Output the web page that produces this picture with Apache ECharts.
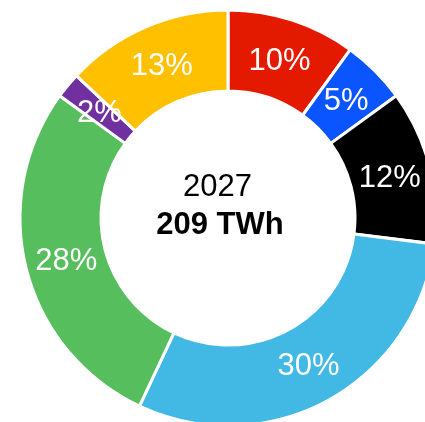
<!DOCTYPE html>
<html>
<head>
<meta charset="utf-8">
<script src="https://cdn.jsdelivr.net/npm/echarts@6/dist/echarts.min.js"></script>
<style>
  html, body { margin: 0; padding: 0; background: #fff; }
  #chart { width: 425px; height: 422px; }
</style>
</head>
<body>
<div id="chart"></div>
<script>
// shares in percent, clockwise from 12 o'clock
const names = ["Red", "Blue", "Black", "Light blue", "Green", "Purple", "Yellow"];
const shares = [10, 5, 12, 30, 28, 2, 13];
const colors = ["#E41A00", "#0A55FF", "#000000", "#42B8E5", "#57BE5E", "#7030A0", "#FFC000"];
const year = "2027";
const total = "209 TWh";

const mychart = echarts.init(document.getElementById("chart"));

const pieData = names.map((n, i) => ({
  name: n,
  value: shares[i],
  itemStyle: { color: colors[i] }
}));

let option = {
  animation: false,
  graphic: [
    {
      type: "text",
      style: {
        x: 217.5,
        y: 187.5,
        text: year,
        align: "center",
        verticalAlign: "middle",
        font: "31px 'Liberation Sans', Arial, sans-serif",
        fill: "#000"
      }
    },
    {
      type: "text",
      style: {
        x: 220,
        y: 225,
        text: total,
        align: "center",
        verticalAlign: "middle",
        font: "bold 31px 'Liberation Sans', Arial, sans-serif",
        fill: "#000"
      }
    }
  ],
  series: [
    {
      // the ring
      type: "pie",
      center: [228, 218],
      radius: [127, 208],
      startAngle: 90,
      clockwise: true,
      itemStyle: { borderColor: "#fff", borderWidth: 3 },
      label: { show: false },
      labelLine: { show: false },
      emphasis: { disabled: true },
      data: pieData
    },
    {
      // same slices, invisible, only for the percentage labels
      type: "pie",
      silent: true,
      center: [228, 218],
      radius: [127, 201],
      startAngle: 90,
      clockwise: true,
      itemStyle: { color: "transparent", borderWidth: 0 },
      label: {
        show: true,
        position: "inside",
        formatter: "{c}%",
        color: "#fff",
        fontSize: 31,
        fontFamily: "'Liberation Sans', Arial, sans-serif"
      },
      labelLayout: { dy: 2 },
      labelLine: { show: false },
      emphasis: { disabled: true },
      data: names.map((n, i) => ({ name: n, value: shares[i] }))
    }
  ]
};

mychart.setOption(option);
</script>
</body>
</html>
